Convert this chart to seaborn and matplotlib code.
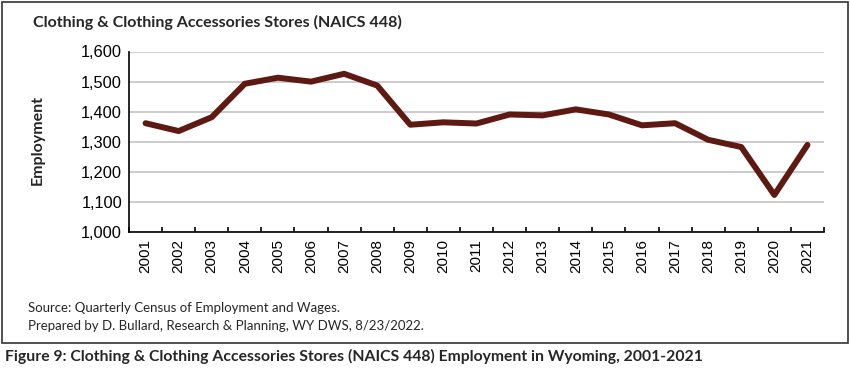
import numpy as np
import pandas as pd
import matplotlib
matplotlib.use("Agg")
import matplotlib.pyplot as plt
import matplotlib.patches as patches
import seaborn as sns

# data
years = list(range(2001, 2022))
employment = [1362, 1336, 1382, 1493, 1513, 1500, 1526, 1487, 1357, 1365, 1361,
              1391, 1388, 1408, 1391, 1355, 1362, 1307, 1283, 1124, 1290]
y_ticks = [1000, 1100, 1200, 1300, 1400, 1500, 1600]

title = "Clothing & Clothing Accessories Stores (NAICS 448)"
y_label = "Employment"
source_lines = ["Source: Quarterly Census of Employment and Wages.",
                "Prepared by D. Bullard, Research & Planning, WY DWS, 8/23/2022."]
caption = "Figure 9: Clothing & Clothing Accessories Stores (NAICS 448) Employment in Wyoming, 2001-2021"

df = pd.DataFrame({"year": years, "employment": employment})

sns.set_theme(style="white")
plt.rcParams["font.family"] = ["Liberation Sans", "DejaVu Sans"]

fig = plt.figure(figsize=(8.5, 3.71), dpi=100)
ax = fig.add_axes([129/850, 1 - 232.3/371, 695/850, 180.8/371])

sns.lineplot(data=df, x="year", y="employment", ax=ax, color="#5e1a12",
             linewidth=4.3, solid_joinstyle="round", solid_capstyle="round")

ax.set_xlim(2000.5, 2021.5)
ax.set_ylim(1000, 1600)
ax.set_yticks(y_ticks)
ax.set_yticklabels([f"{v:,}" for v in y_ticks], fontsize=11.8, color="black")
ax.set_xticks(years)
ax.set_xticklabels([str(y) for y in years], rotation=90, fontsize=11, color="black")
ax.set_xticks(np.arange(2000.5, 2022, 1), minor=True)
ax.tick_params(axis="x", which="major", length=0, pad=5)
ax.tick_params(axis="x", which="minor", direction="in", length=3.5, width=1.2,
               color="black", bottom=True)
ax.tick_params(axis="y", length=0, pad=5)

ax.grid(axis="y", color="#bfbfbf", linewidth=1.1)
ax.grid(axis="x", visible=False)
ax.set_axisbelow(True)
for side in ["top", "right"]:
    ax.spines[side].set_visible(False)
for side in ["left", "bottom"]:
    ax.spines[side].set_color("black")
    ax.spines[side].set_linewidth(1.2)

ax.set_xlabel("")
ax.set_ylabel("")

calibri_like = ["Lato", "DejaVu Sans"]
fig.text(38/850, 1 - 140/371, y_label, rotation=90, ha="center", va="center",
         fontsize=11.5, fontweight="bold", family=calibri_like)
fig.text(33/850, 1 - 22/371, title, ha="left", va="center",
         fontsize=11.5, fontweight="bold", family=calibri_like)
fig.text(28/850, 1 - 308/371, source_lines[0], ha="left", va="center",
         fontsize=9.5, family=calibri_like)
fig.text(28/850, 1 - 326/371, source_lines[1], ha="left", va="center",
         fontsize=9.5, family=calibri_like)
fig.text(5/850, 1 - 356/371, caption, ha="left", va="center",
         fontsize=11.3, fontweight="bold", family=calibri_like)

# border around the chart area
fig.patches.append(patches.Rectangle((2/850, 1 - 342.5/371), 846/850, 340.5/371,
                                     transform=fig.transFigure, fill=False,
                                     edgecolor="#333333", linewidth=1.2))

fig.savefig("out.png", dpi=100)
